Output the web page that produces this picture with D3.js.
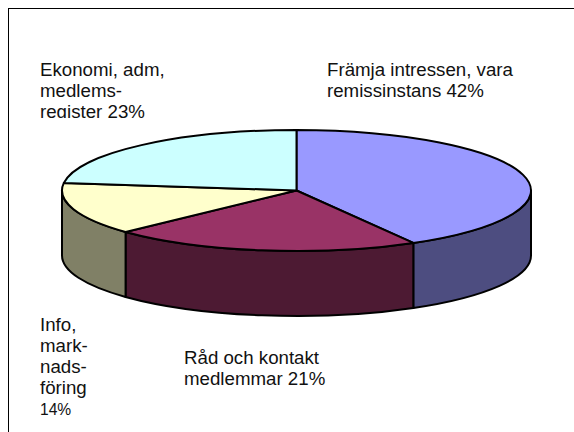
<!DOCTYPE html>
<html lang="sv">
<head>
<meta charset="utf-8">
<title>Pie</title>
<script src="https://d3js.org/d3.v7.min.js"></script>
<style>
    html, body { margin: 0; padding: 0; background: #fff; overflow: hidden; }
    svg { display: block; }
    text { font-family: "Liberation Sans", Arial, sans-serif; fill: #111; }
</style>
</head>
<body>
<svg id="chart" width="574" height="432"></svg>
<script>
// pie values, clockwise from 12 o'clock., labels are rounded
const categories = ["Främja intressen, vara remissinstans", "Råd och kontakt medlemmar", "Info, marknadsföring", "Ekonomi, adm, medlemsregister"];
const shares = [41.7, 21.3, 14, 23];
const topColors = ["#9999ff", "#993366", "#ffffcc", "#ccffff"];
const sideColors = ["#4d4d80", "#4d1a33", "#808066", "#668080"];

// one line of text per row, same order as categories
const labelLines = [
    ["Främja intressen, vara", "remissinstans 42%"],
    ["Råd och kontakt", "medlemmar 21%"],
    ["Info,", "mark-", "nads-", "föring", "14%"],
    ["Ekonomi, adm,", "medlems-", "register 23%"]
];
const labelX = [327, 184, 40, 40];
const labelY = [75.5, 364, 331, 75.5];

const svg = d3.select("#chart");

// frame runs off the right and bottom of the page
svg.append("rect")
    .attr("x", 8.5).attr("y", 8.5)
    .attr("width", 600).attr("height", 460)
    .attr("fill", "#fff").attr("stroke", "#000").attr("stroke-width", 1);

// flat ellipse: unit circle coordinates mapped to pixels
const rx = 234.5, ry = 60.5, depth = 65;
const x = d3.scaleLinear().domain([-1, 1]).range([296.5 - rx, 296.5 + rx]);
const y = d3.scaleLinear().domain([-1, 1]).range([190.5 - ry, 190.5 + ry]);

const slices = d3.pie().sort(null).value(d => d.share)(
    categories.map((c, i) => ({name: c, share: shares[i], top: topColors[i], side: sideColors[i]}))
);

const px = a => x(Math.sin(a));
const py = a => y(-Math.cos(a));

function arcTo(a0, a1, dy, sweep) {
    const large = Math.abs(a1 - a0) > Math.PI ? 1 : 0;
    return `A${rx},${ry} 0 ${large} ${sweep} ${px(a1)},${py(a1) + dy}`;
}

function topPath(d) {
    return `M${x(0)},${y(0)}L${px(d.startAngle)},${py(d.startAngle)}` +
        arcTo(d.startAngle, d.endAngle, 0, 1) + "Z";
}

// wall is only visible on the front half of the ellipse
function sidePath(d) {
    const a0 = Math.max(d.startAngle, Math.PI / 2);
    const a1 = Math.min(d.endAngle, Math.PI * 1.5);
    if (a1 <= a0) return null;
    return `M${px(a0)},${py(a0)}` + arcTo(a0, a1, 0, 1) +
        `L${px(a1)},${py(a1) + depth}` + arcTo(a1, a0, depth, 0) + "Z";
}

const pie = svg.append("g")
    .attr("stroke", "#000").attr("stroke-width", 2).attr("stroke-linejoin", "round");

pie.selectAll("path.side")
    .data(slices.filter(d => sidePath(d)))
    .join("path")
    .attr("class", "side")
    .attr("d", sidePath)
    .attr("fill", d => d.data.side);

pie.selectAll("path.top")
    .data(slices)
    .join("path")
    .attr("class", "top")
    .attr("d", topPath)
    .attr("fill", d => d.data.top);

// the top-left label box cuts off its last line, as in the source
svg.append("clipPath").attr("id", "cut")
    .append("rect").attr("x", 0).attr("y", 0).attr("width", 574).attr("height", 118);

labelLines.forEach((lines, i) => {
    const t = svg.append("text").attr("font-size", 18.7);
    if (i === 3) t.attr("clip-path", "url(#cut)");
    lines.forEach((line, j) => {
        t.append("tspan")
            .attr("x", labelX[i])
            .attr("y", line === "14%" ? labelY[i] + 84 : labelY[i] + j * 21)
            .attr("font-size", line === "14%" ? 15.6 : null)
            .text(line);
    });
});
</script>
</body>
</html>
